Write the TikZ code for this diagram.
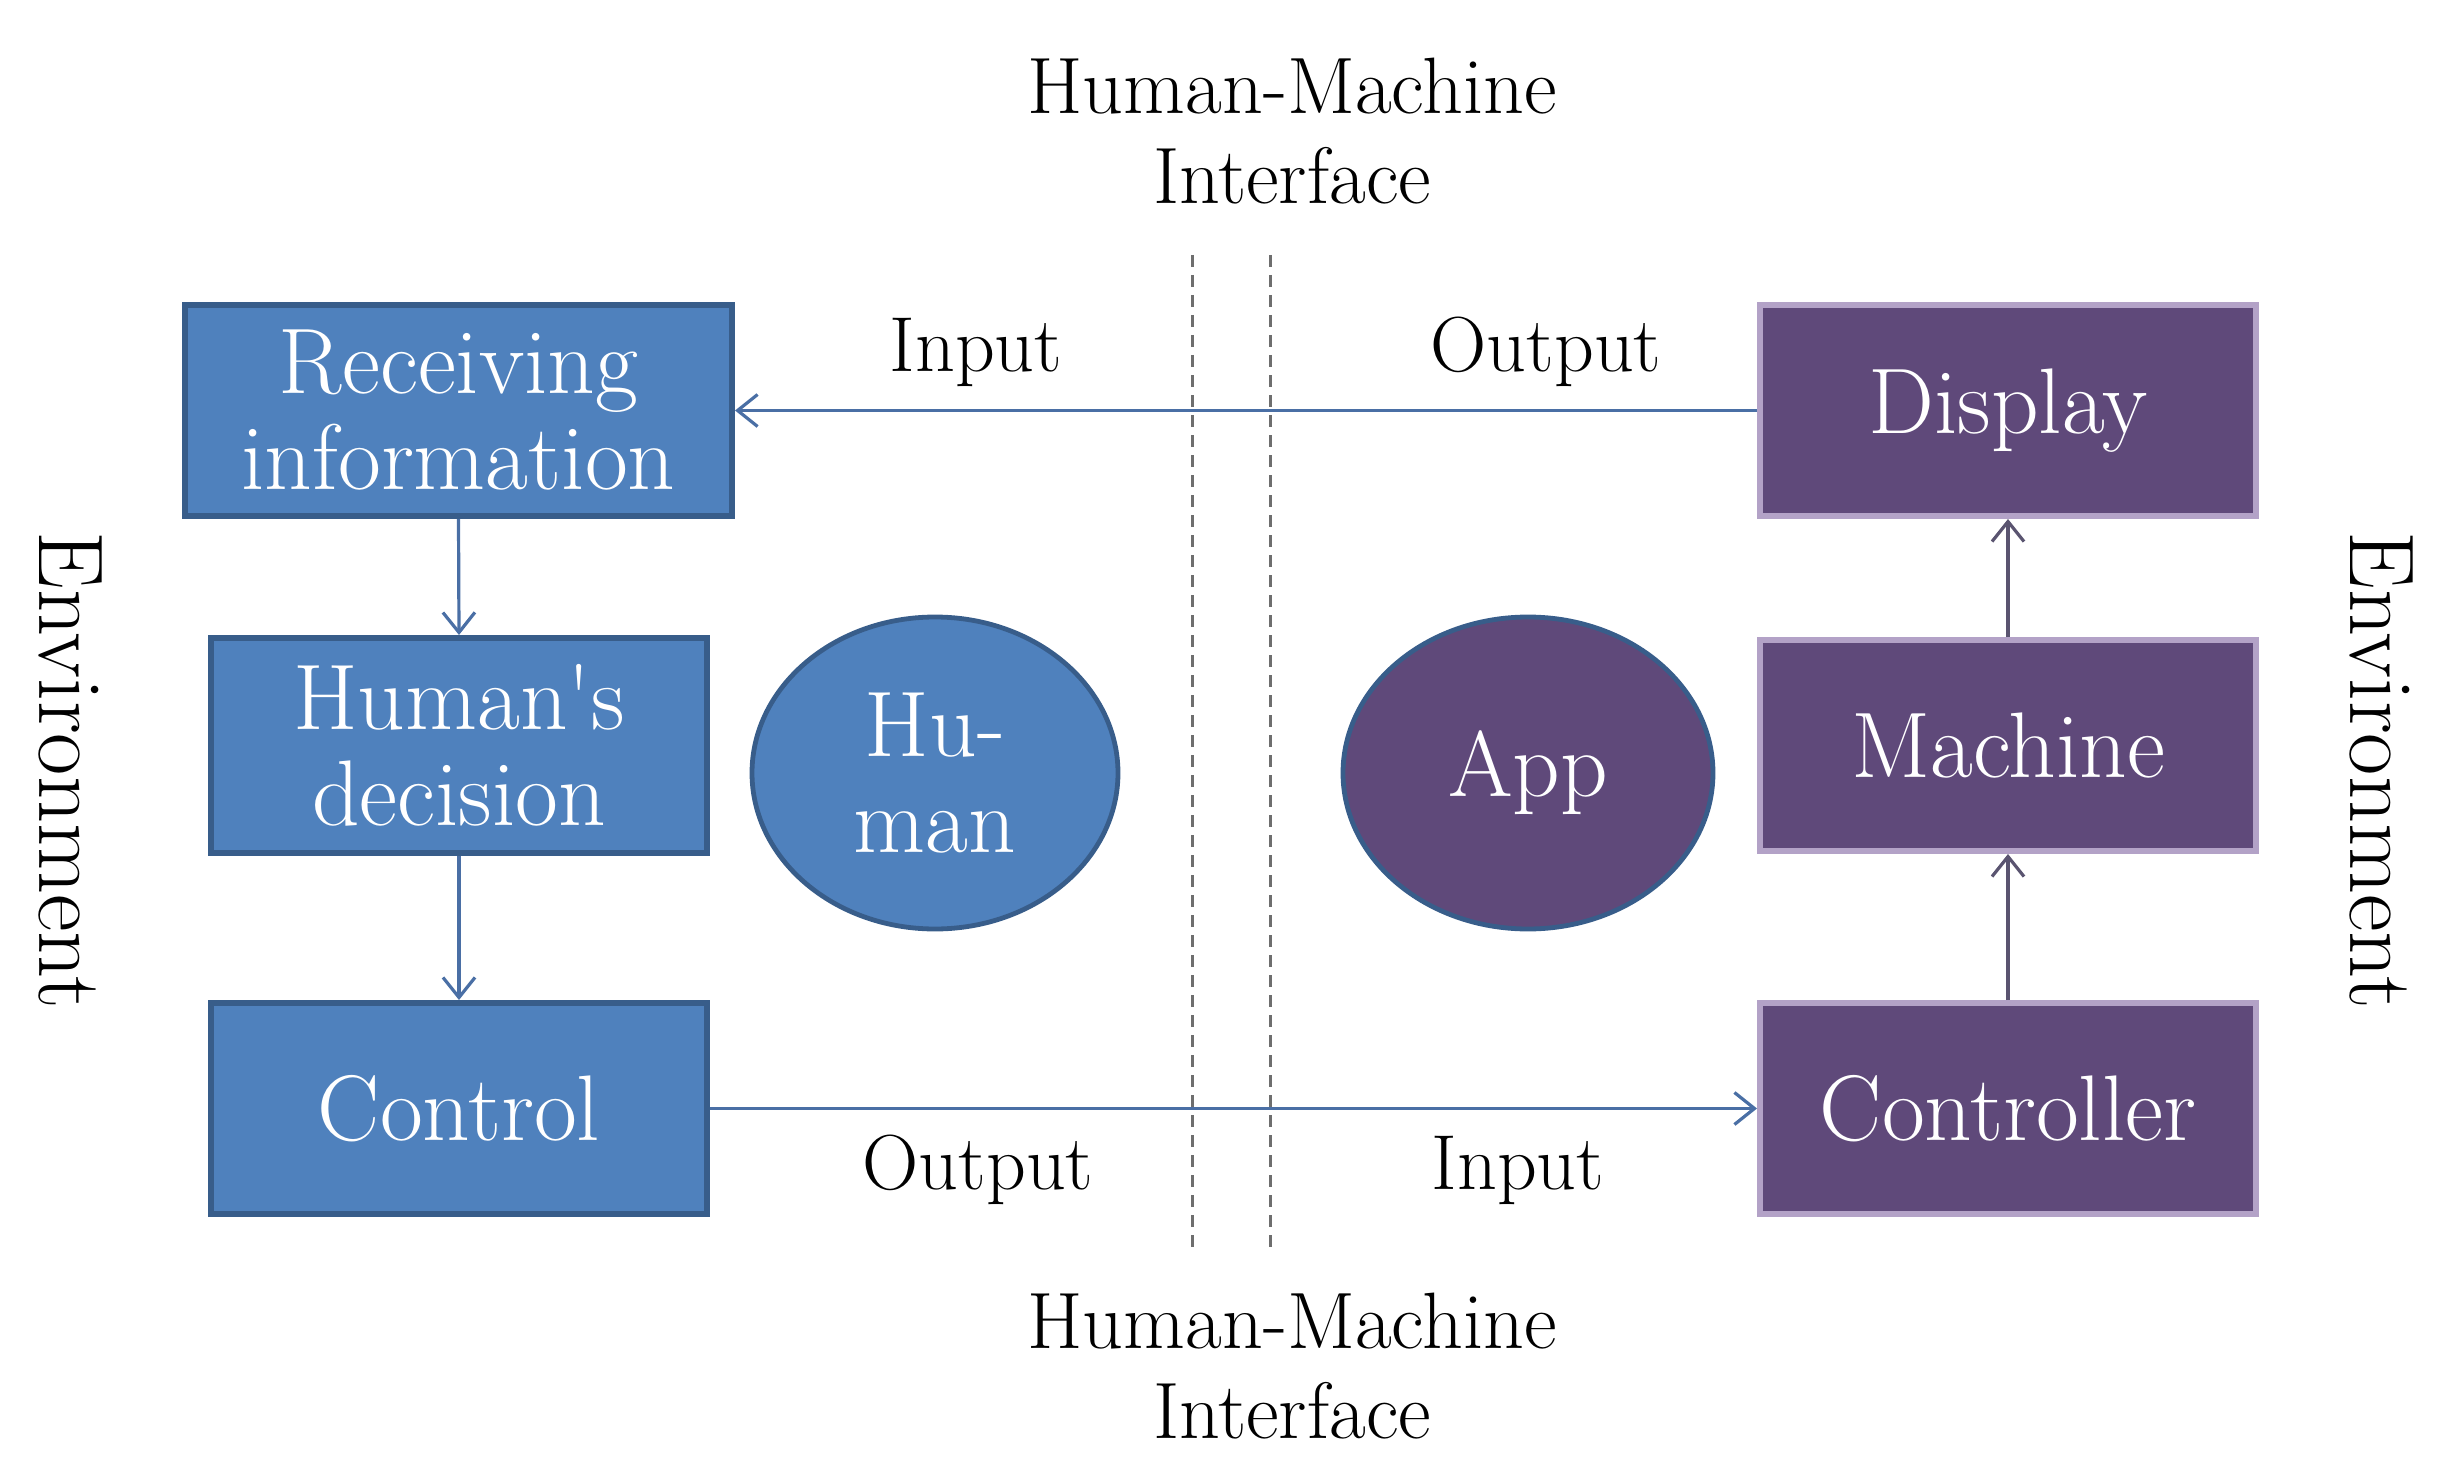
\documentclass[tikz,border=0pt]{standalone}
\usetikzlibrary{arrows.meta,shapes.geometric}
\definecolor{humblue}{RGB}{79,129,189}
\definecolor{humedge}{RGB}{56,93,138}
\definecolor{apppurple}{RGB}{95,73,122}
\definecolor{appedge}{RGB}{179,162,199}
\definecolor{hmiline}{RGB}{74,111,165}
\definecolor{machline}{RGB}{90,84,112}
\definecolor{dashgray}{RGB}{110,110,110}
\tikzset{
  boxtext/.style={text=white, align=center, inner sep=0pt, font=\fontsize{23.3}{24}\selectfont},
  humanbox/.style={boxtext, draw=humedge, fill=humblue, line width=1.5pt, minimum height=52.75pt},
  appbox/.style={boxtext, draw=appedge, fill=apppurple, line width=1.5pt, minimum width=124pt, minimum height=52.75pt},
  blob/.style={boxtext, ellipse, draw=humedge, line width=1.2pt, minimum width=91.5pt, minimum height=78pt},
  flow/.style={-{Straight Barb[length=5pt,width=8pt]}, line width=0.8pt},
  label/.style={inner sep=0pt, font=\fontsize{19.5}{22.5}\selectfont, align=center},
}
\begin{document}
\begin{tikzpicture}[x=0.25pt,y=0.25pt,yscale=-1,xscale=1]
        \useasboundingbox (0,0) rectangle (2453,1476);
        %Dashed Lines
        \draw [color=dashgray, line width=0.75pt, dash pattern={on 3pt off 2pt}] (1192,255) -- (1192,1252);
        \draw [color=dashgray, line width=0.75pt, dash pattern={on 3pt off 2pt}] (1270,255) -- (1270,1252);

        %Human side
        \node [humanbox, minimum width=136.75pt] (recv) at (458.5,410.5) {Receiving\\information};
        \node [humanbox, minimum width=124pt, minimum height=53.75pt] (decide) at (459,745.5) {Human\textquotesingle s\\decision};
        \node [humanbox, minimum width=124pt] (ctrl) at (459,1108.5) {Control};
        \node [blob, fill=humblue] (human) at (935,773) {Hu-\\man};

        %Machine side
        \node [appbox] (disp) at (2008,410.5) {Display};
        \node [appbox] (mach) at (2008,745.5) {Machine};
        \node [appbox] (contr) at (2008,1108.5) {Controller};
        \node [blob, fill=apppurple, minimum width=92.5pt] (app) at (1528,773) {App};

        %Arrows
        \draw [flow, color=hmiline] (disp.west) -- (recv.east);
        \draw [flow, color=hmiline] (recv.south) -- (decide.north);
        \draw [flow, color=hmiline] (decide.south) -- (ctrl.north);
        \draw [flow, color=hmiline] (ctrl.east) -- (contr.west);
        \draw [flow, color=machline] (contr.north) -- (mach.south);
        \draw [flow, color=machline] (mach.north) -- (disp.south);

        % Text Node
        \node [label, font=\fontsize{20}{22.5}\selectfont] (hmitop) at (1292,131) {Human-Machine\\Interface};
        % Text Node
        \node [label, font=\fontsize{20}{22.5}\selectfont] (hmibot) at (1292,1366) {Human-Machine\\Interface};
        % Text Node
        \node [label] (intop) at (976,352) {Input};
        % Text Node
        \node [label] (outtop) at (1546,352) {Output};
        % Text Node
        \node [label] (outbot) at (978,1170) {Output};
        % Text Node
        \node [label] (inbot) at (1518,1170) {Input};
        % Text Node
        \node [label, font=\fontsize{23}{24}\selectfont, rotate=-90] (envl) at (70,770) {Environment};
        % Text Node
        \node [label, font=\fontsize{23}{24}\selectfont, rotate=-90] (envr) at (2381,770) {Environment};
\end{tikzpicture}
\end{document}
